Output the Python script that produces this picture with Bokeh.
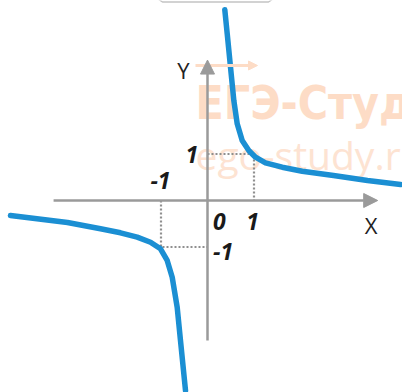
from bokeh.plotting import figure
from bokeh.models import Range1d, Arrow, NormalHead
from bokeh.core.properties import value
from bokeh.embed import file_html
from bokeh.resources import INLINE

# hyperbola-like branches (data units)
upper_x = [0.372, 0.424, 0.495, 0.566, 0.639, 0.746, 0.888, 1.032, 1.247, 1.606, 2.037, 2.710, 3.441, 4.151]
upper_y = [4.101, 3.585, 2.867, 2.151, 1.649, 1.290, 1.075, 0.931, 0.811, 0.716, 0.630, 0.538, 0.430, 0.344]
lower_x = [-4.237, -3.011, -2.301, -1.871, -1.512, -1.226, -1.011, -0.867, -0.759, -0.652, -0.581, -0.473]
lower_y = [-0.323, -0.473, -0.609, -0.695, -0.789, -0.897, -1.039, -1.290, -1.649, -2.295, -3.011, -4.086]

# axis extents
x_axis = [-3.31, 3.66]
y_axis = [-3.01, 3.02]

# marked points
mark_pos = [1, 1]
mark_neg = [-1, -1]

# labels
tick_texts = ["1", "-1", "0", "1", "-1"]
tick_x = [-0.20, -0.796, 0.12, 0.968, 0.12]
tick_y = [0.997, 0.438, -0.444, -0.444, -1.089]
tick_align = ["right", "right", "left", "center", "left"]

# top frame edge (partial box above the chart)
frame_x = [-1.075, -0.968, 1.312, 1.419]
frame_y = [4.344, 4.269, 4.269, 4.344]

UNIT = 46.5
W, H = 402, 392
OX, OY = 207, 200
p = figure(width=W, height=H, output_backend="svg", toolbar_location=None,
           x_range=Range1d(-OX / UNIT, (W - OX) / UNIT),
           y_range=Range1d(-(H - OY) / UNIT, OY / UNIT),
           min_border=0, tools="")
p.axis.visible = False
p.grid.visible = False
p.outline_line_color = None
p.background_fill_color = "white"
p.border_fill_color = "white"

p.line(frame_x, frame_y, line_color="#c4c4c4", line_width=1.5, line_join="round")

WM = "#fddcc6"
# watermark
p.text(x=[-0.258], y=[2.096], text=["ЕГЭ-Студия"], text_font=value("DejaVu Sans Condensed"),
       text_font_style="bold", text_font_size="46px", text_color=WM,
       text_align="left", text_baseline="alphabetic")
p.text(x=[-0.258], y=[1.0], text=["ego-study.ru"], text_font=value("Open Sans"),
       text_font_size="39px", text_color="#fde3d2",
       text_align="left", text_baseline="alphabetic")
p.add_layout(Arrow(end=NormalHead(size=9, fill_color=WM, line_color=WM),
                   x_start=-0.258, y_start=2.903, x_end=1.075, y_end=2.903,
                   line_color=WM, line_width=3))

GREY = "#9a9a9a"
# dotted guides
p.line([0, mark_pos[0], mark_pos[0]], [mark_pos[1], mark_pos[1], 0],
       line_color="#8f8f8f", line_width=2.2, line_dash="2 2")
p.line([mark_neg[0], mark_neg[0], 0], [0, mark_neg[1], mark_neg[1]],
       line_color="#8f8f8f", line_width=2.2, line_dash="2 2")

# axes with arrows
p.add_layout(Arrow(end=NormalHead(size=14, fill_color=GREY, line_color=GREY, line_width=1),
                   x_start=x_axis[0], y_start=0, x_end=x_axis[1], y_end=0,
                   line_color=GREY, line_width=2.5))
p.add_layout(Arrow(end=NormalHead(size=14, fill_color=GREY, line_color=GREY, line_width=1),
                   x_start=0, y_start=y_axis[0], x_end=0, y_end=y_axis[1],
                   line_color=GREY, line_width=2.5))

BLUE = "#1b8fd3"
p.line(upper_x, upper_y, line_color=BLUE, line_width=5.5, line_cap="round", line_join="round")
p.line(lower_x, lower_y, line_color=BLUE, line_width=5.5, line_cap="round", line_join="round")

# axis names
p.text(x=[-0.516], y=[2.804], text=["Y"], text_font=value("Open Sans"), text_font_size="22px",
       text_color="#222222", text_align="center", text_baseline="alphabetic")
p.text(x=[3.516], y=[-0.53], text=["X"], text_font=value("Open Sans"), text_font_size="22px",
       text_color="#222222", text_align="center", text_baseline="alphabetic")

for t, tx, ty, ta in zip(tick_texts, tick_x, tick_y, tick_align):
    p.text(x=[tx], y=[ty], text=[t], text_font=value("Open Sans"), text_font_style="bold italic",
           text_font_size="23px", text_color="#1a1a1a", text_align=ta, text_baseline="alphabetic")

open("out.html", "w").write(file_html(p, INLINE))
